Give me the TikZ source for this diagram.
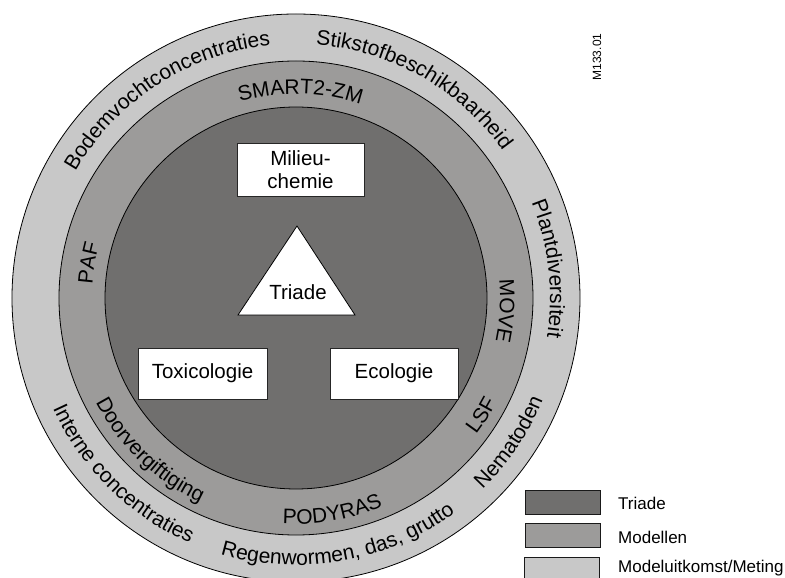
\documentclass[tikz,border=0pt]{standalone}
\usepackage{fontspec}
\setmainfont{Liberation Sans}
\usetikzlibrary{decorations.text}

\definecolor{triadegray}{RGB}{112,111,110}
\definecolor{modelgray}{RGB}{156,155,154}
\definecolor{meetgray}{RGB}{200,200,200}

\newcommand{\ringsize}{\fontsize{21}{25}\selectfont}

% text along a clockwise arc, letters pointing outward
\newcommand{\cwtext}[3]{%
  \path[decorate, decoration={text along path, text align=center, text={|\ringsize|#3}}]
    ({#1+70}:#2) arc[start angle={#1+70}, end angle={#1-70}, radius=#2];}
% text along a counter-clockwise arc, letters pointing inward
\newcommand{\ccwtext}[3]{%
  \path[decorate, decoration={text along path, text align=center, text={|\ringsize|#3}}]
    ({#1-70}:#2) arc[start angle={#1-70}, end angle={#1+70}, radius=#2];}

\begin{document}
\begin{tikzpicture}[x=1pt, y=1pt,
  ring/.style={draw=black, line width=0.8pt},
  fieldbox/.style={draw=black!85, line width=0.8pt, fill=white,
    minimum width=#1, minimum height=51pt, inner sep=0pt, align=center,
    font=\fontsize{20.5}{23}\selectfont},
  legendbox/.style={draw=black!90, line width=1pt, minimum width=75pt,
    minimum height=24pt, inner sep=0pt},
  legendtext/.style={anchor=west, inner sep=0pt, font=\fontsize{17}{19}\selectfont}]
\useasboundingbox (-296,-280) rectangle (489,298);

% three rings
\fill[meetgray] (0,0) circle[radius=284];
\draw[ring] (0,0) circle[radius=284];
\fill[modelgray] (0,0) circle[radius=237];
\draw[ring] (0,0) circle[radius=237];
\fill[triadegray] (0,0) circle[radius=191];
\draw[ring] (0,0) circle[radius=191];

% outer ring: measurements / model results
\cwtext{123}{254}{Bodemvochtconcentraties}
\cwtext{60.5}{254}{Stikstofbeschikbaarheid}
\cwtext{6.6}{254}{Plantdiversiteit}
\ccwtext{-34}{267}{Nematoden}
\ccwtext{-79.9}{267}{Regenwormen, das, grutto}
\ccwtext{-134.5}{267}{Interne concentraties}

% middle ring: models
\cwtext{88.75}{204}{SMART2-ZM}
\cwtext{170.4}{204}{PAF}
\cwtext{-3.5}{204}{MOVE}
\ccwtext{-32.3}{226}{LSF}
\ccwtext{-80.4}{226}{PODYRAS}
\ccwtext{-133.8}{226}{Doorvergiftiging}

% triad fields
\node[fieldbox=127pt, minimum height=53pt] (chem) at (4.5,128.5) {Milieu-\\chemie};
\node[fieldbox=129pt] (tox) at (-93.5,-75.5) {Toxicologie};
\node[fieldbox=128pt] (eco) at (98,-75.5) {Ecologie};

% central triangle
\coordinate (apex) at (1,72);
\coordinate (bl) at (-58,-17);
\coordinate (br) at (59,-17);
\draw[fill=white, line width=0.8pt, line join=miter] (apex) -- (br) -- (bl) -- cycle;
\node[font=\fontsize{20.5}{23}\selectfont] (triade) at (2,6) {Triade};

% legend
\node[legendbox, fill=triadegray] (lt) at (266.5,-204) {};
\node[legendbox, fill=modelgray] (lm) at (266.5,-237) {};
\node[legendbox, fill=meetgray] (lu) at (265.5,-271) {};
\node[legendtext] (tt) at (322,-205) {Triade};
\node[legendtext] (tm) at (322,-239) {Modellen};
\node[legendtext] (tu) at (322,-270) {Modeluitkomst/Meting};

% figure code
\node[rotate=90, font=\fontsize{12}{14}\selectfont] (code) at (301,241) {M133.01};
\end{tikzpicture}
\end{document}
